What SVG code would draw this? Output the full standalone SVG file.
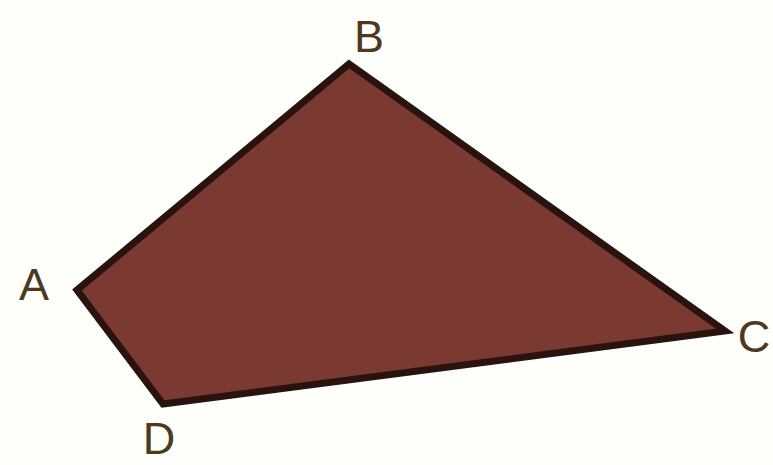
<svg xmlns="http://www.w3.org/2000/svg" width="773" height="465" viewBox="0 0 773 465">
<style>
.lbl{font-family:"Liberation Sans","DejaVu Sans",sans-serif;font-size:45px;fill:#4d3a1e;text-anchor:middle}
</style>
<rect width="773" height="465" fill="#fefefb"/>
<g id="quad">
<polygon points="77,290 349,64 725,331 163,404" fill="#7a3a32" stroke="#2a130f" stroke-width="7" stroke-linejoin="miter"/>
</g>
<g id="labels">
<text class="lbl" x="34" y="300">A</text>
<text class="lbl" x="369" y="52">B</text>
<text class="lbl" x="754" y="352">C</text>
<text class="lbl" x="159" y="454">D</text>
</g>
</svg>
